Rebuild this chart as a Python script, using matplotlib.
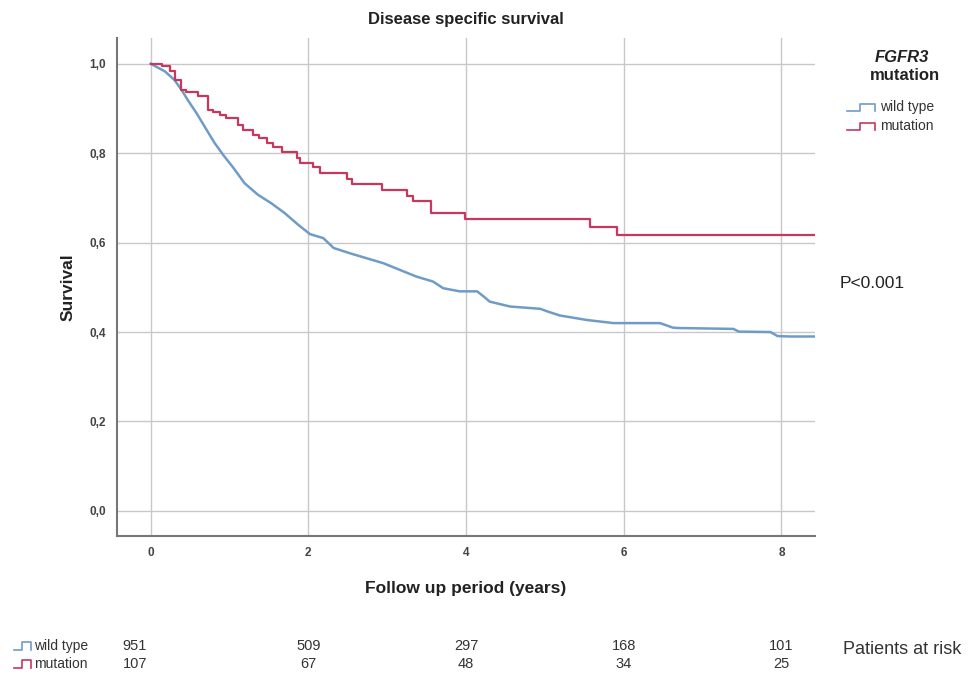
"""
plot.py — Kaplan-Meier disease specific survival by FGFR3 mutation status.
"""

import matplotlib
matplotlib.use("Agg")
import matplotlib.pyplot as plt
from matplotlib.lines import Line2D

plt.rcParams["font.family"] = ["Liberation Sans", "DejaVu Sans"]

# Kaplan-Meier estimates (years, survival).
# The wild type arm has many tiny steps, so it is traced as a polyline.
wt_time = [0.0, 0.18, 0.30, 0.39, 0.47, 0.58, 0.71, 0.81, 0.92, 1.05, 1.19,
           1.36, 1.53, 1.70, 1.87, 2.02, 2.19, 2.32, 2.53, 2.74, 2.95, 3.16,
           3.37, 3.58, 3.71, 3.92, 4.14, 4.22, 4.30, 4.56, 4.94, 5.05, 5.19,
           5.53, 5.87, 6.46, 6.62, 6.68, 7.39, 7.46, 7.86, 7.95, 8.11, 8.43]
wt_surv = [1.0, 0.983, 0.964, 0.942, 0.919, 0.890, 0.852, 0.823, 0.796, 0.767,
           0.733, 0.707, 0.688, 0.666, 0.640, 0.619, 0.610, 0.588, 0.576, 0.565,
           0.554, 0.539, 0.524, 0.513, 0.498, 0.491, 0.491, 0.480, 0.468, 0.457,
           0.452, 0.445, 0.437, 0.427, 0.420, 0.420, 0.410, 0.409, 0.407, 0.401,
           0.400, 0.391, 0.390, 0.390]

mut_time = [0.0, 0.14, 0.24, 0.31, 0.39, 0.45, 0.60, 0.73, 0.79, 0.88, 0.96,
            1.11, 1.17, 1.30, 1.38, 1.47, 1.55, 1.66, 1.85, 1.89, 2.06, 2.15,
            2.49, 2.55, 2.93, 3.25, 3.33, 3.56, 3.99, 5.57, 5.91, 8.43]
mut_surv = [1.0, 0.995, 0.983, 0.964, 0.942, 0.937, 0.928, 0.897, 0.893, 0.886,
            0.878, 0.864, 0.852, 0.841, 0.834, 0.823, 0.814, 0.802, 0.789, 0.779,
            0.769, 0.755, 0.742, 0.731, 0.718, 0.705, 0.692, 0.666, 0.653, 0.634,
            0.616, 0.616]

risk_years = [0, 2, 4, 6, 8]
wt_at_risk = [951, 509, 297, 168, 101]
mut_at_risk = [107, 67, 48, 34, 25]

x_ticks = [0, 2, 4, 6, 8]
y_ticks = [0.0, 0.2, 0.4, 0.6, 0.8, 1.0]

WT_COLOR = "#6f9cc6"
MUT_COLOR = "#c8375e"
TEXT_COLOR = "#222222"
GRID_COLOR = "#c8c8c8"
W, H = 973, 675


def step_icon(fig, x0, y0, color, w=28, h=7):
    """Small KM-style step glyph, placed in pixel coordinates."""
    xs = [x0, x0 + w * 0.45, x0 + w * 0.45, x0 + w, x0 + w]
    ys = [y0 + h / 2, y0 + h / 2, y0 - h / 2, y0 - h / 2, y0 + h / 2]
    fig.add_artist(Line2D([x / W for x in xs], [1 - y / H for y in ys],
                          color=color, lw=1.2, transform=fig.transFigure))


def main():
    fig = plt.figure(figsize=(W / 100, H / 100), dpi=100)
    ax = fig.add_axes([0.120, 0.206, 0.718, 0.738])

    ax.plot(wt_time, wt_surv, color=WT_COLOR, lw=1.8)
    ax.step(mut_time, mut_surv, where="post", color=MUT_COLOR, lw=1.6)

    ax.set_xlim(-0.43, 8.43)
    ax.set_ylim(-0.056, 1.058)
    ax.set_xticks(x_ticks)
    ax.set_xticklabels([str(t) for t in x_ticks])
    ax.set_yticks(y_ticks)
    ax.set_yticklabels([f"{v:.1f}".replace(".", ",") for v in y_ticks])
    ax.tick_params(length=0, labelsize=8.5, colors="#444444", pad=8)
    for lab in ax.get_xticklabels() + ax.get_yticklabels():
        lab.set_fontweight("bold")
    ax.grid(color=GRID_COLOR, lw=1.0)
    ax.set_axisbelow(True)
    for side in ("top", "right"):
        ax.spines[side].set_visible(False)
    for side in ("left", "bottom"):
        ax.spines[side].set_color("#777777")
        ax.spines[side].set_linewidth(1.5)

    ax.set_title("Disease specific survival", fontsize=12, fontweight="bold",
                 color=TEXT_COLOR, pad=10)
    ax.set_ylabel("Survival", fontsize=12.5, fontweight="bold", color=TEXT_COLOR,
                  labelpad=10)
    ax.set_xlabel("Follow up period (years)", fontsize=12.5, fontweight="bold",
                  color=TEXT_COLOR, labelpad=16)

    # legend block on the right
    fig.text(902 / W, 1 - 57 / H, "FGFR3", fontsize=12, fontweight="bold",
             style="italic", ha="center", va="center", color=TEXT_COLOR)
    fig.text(905 / W, 1 - 76 / H, "mutation", fontsize=12, fontweight="bold",
             ha="center", va="center", color=TEXT_COLOR)
    step_icon(fig, 847, 107, WT_COLOR)
    step_icon(fig, 847, 126, MUT_COLOR)
    fig.text(880 / W, 1 - 107 / H, "wild type", fontsize=10,
             va="center", color="#333333")
    fig.text(880 / W, 1 - 126 / H, "mutation", fontsize=10,
             va="center", color="#333333")

    fig.text(840 / W, 1 - 284 / H, "P<0.001", fontsize=12.5,
             va="center", color=TEXT_COLOR)

    # patients at risk table
    row_y = [1 - 646 / H, 1 - 664 / H]
    step_icon(fig, 14, 646, WT_COLOR, w=17, h=8)
    step_icon(fig, 14, 664, MUT_COLOR, w=17, h=8)
    fig.text(34 / W, row_y[0], "wild type", fontsize=10,
             va="center", color="#333333")
    fig.text(34 / W, row_y[1], "mutation", fontsize=10,
             va="center", color="#333333")
    for row, counts in zip(row_y, [wt_at_risk, mut_at_risk]):
        for yr, n in zip(risk_years, counts):
            xd = yr if yr > 0 else -0.2  # first column sits left of the 0 tick
            xf = ax.transData.transform((xd, 0))[0] / fig.bbox.width
            fig.text(xf, row, str(n), fontsize=10.5,
                     ha="center", va="center", color="#333333")
    fig.text(843 / W, 1 - 650 / H, "Patients at risk", fontsize=13,
             va="center", color="#333333")

    fig.savefig("out.png", dpi=100)
    plt.close(fig)


if __name__ == "__main__":
    main()
